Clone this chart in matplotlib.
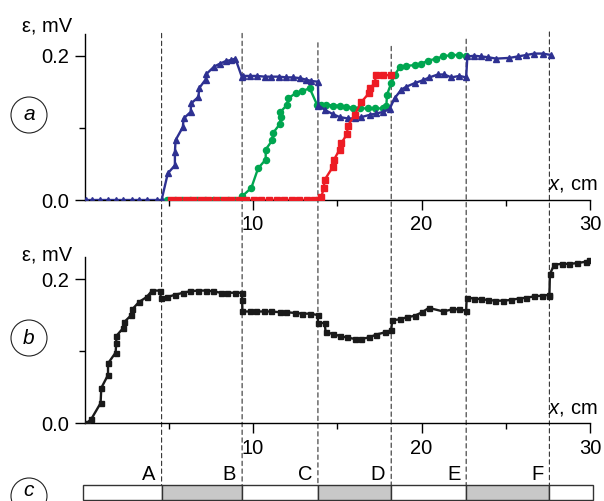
import matplotlib
matplotlib.use('Agg')
import matplotlib.pyplot as plt
from matplotlib.patches import ConnectionPatch, Ellipse

# fonts: narrow helvetica-like look
plt.rcParams['font.family'] = ['Liberation Sans Narrow', 'Liberation Sans', 'DejaVu Sans']
plt.rcParams['mathtext.fontset'] = 'custom'
plt.rcParams['mathtext.it'] = 'Liberation Sans:italic'
plt.rcParams['mathtext.rm'] = 'Liberation Sans'

# section boundaries (cm) and where the dashed lines start at the top (mV, panel a)
boundaries = [4.57, 9.35, 13.85, 18.2, 22.65, 27.59]
line_tops = [0.231, 0.231, 0.218, 0.213, 0.223, 0.233]
section_names = ['A', 'B', 'C', 'D', 'E', 'F']
bar_start = -0.1
bar_end = 30.15

# panel a, blue triangles
blue_x = [0.1, 0.45, 0.9, 1.4, 1.85, 2.3, 2.8, 3.2, 3.7, 4.3,
          4.57, 4.94, 5.36, 5.36, 5.4, 5.83, 5.88, 6.29, 6.33, 6.76,
          6.8, 7.18, 7.2, 7.69, 8.03, 8.42, 8.7, 8.95, 9.33, 9.41,
          9.8, 10.24, 10.69, 11.09, 11.54, 11.98, 12.37, 12.77, 13.12, 13.46,
          13.85, 13.88, 14.25, 14.74, 15.14, 15.63, 16.03, 16.43, 16.92, 17.31,
          17.71, 18.1, 18.4, 18.8, 19.09, 19.59, 20.08, 20.47, 20.97, 21.36,
          21.76, 22.25, 22.65, 22.72, 23.14, 23.54, 23.93, 24.43, 25.22, 25.71,
          26.21, 26.7, 27.19, 27.69]
blue_y = [0, 0, 0, 0, 0, 0, 0, 0, 0, 0,
          0.0, 0.037, 0.048, 0.066, 0.083, 0.101, 0.113, 0.122, 0.134, 0.143,
          0.155, 0.167, 0.174, 0.185, 0.189, 0.193, 0.194, 0.196, 0.171, 0.172,
          0.172, 0.172, 0.171, 0.171, 0.171, 0.170, 0.170, 0.169, 0.167, 0.165,
          0.164, 0.131, 0.125, 0.119, 0.115, 0.113, 0.113, 0.115, 0.118, 0.120,
          0.122, 0.126, 0.141, 0.153, 0.157, 0.162, 0.166, 0.170, 0.174, 0.174,
          0.170, 0.172, 0.170, 0.199, 0.200, 0.199, 0.198, 0.196, 0.197, 0.199,
          0.201, 0.203, 0.203, 0.201]

# panel a, green circles
green_x = [4.9, 5.35, 5.8, 6.25, 6.7, 7.15, 7.6, 8.05, 8.5, 8.95,
           9.35, 9.9, 10.3, 10.75, 10.75, 11.15, 11.19, 11.58, 11.64, 11.62,
           12.02, 12.08, 12.53, 12.93, 13.36, 13.8, 14.05, 14.35, 14.74, 15.14,
           15.54, 15.93, 16.33, 16.82, 17.21, 17.71, 17.91, 17.95, 18.2, 18.4,
           18.7, 19.09, 19.59, 19.98, 20.37, 20.87, 21.26, 21.76, 22.21, 22.65]
green_y = [0, 0, 0, 0, 0, 0, 0, 0, 0, 0,
           0.005, 0.017, 0.044, 0.056, 0.070, 0.083, 0.093, 0.105, 0.115, 0.122,
           0.132, 0.141, 0.148, 0.151, 0.155, 0.132, 0.132, 0.132, 0.131, 0.131,
           0.129, 0.128, 0.127, 0.127, 0.127, 0.127, 0.130, 0.146, 0.162, 0.173,
           0.184, 0.186, 0.187, 0.189, 0.193, 0.196, 0.199, 0.201, 0.201, 0.199]

# panel a, red squares
red_x = [5.1, 5.55, 6.0, 6.45, 6.9, 7.35, 7.8, 8.25, 8.7, 9.15,
         9.6, 10.05, 10.5, 10.95, 11.4, 11.85, 12.3, 12.75, 13.2, 13.6,
         13.9, 14.05, 14.19, 14.25, 14.74, 14.78, 15.14, 15.24, 15.57, 15.63,
         16.03, 16.43, 16.88, 16.96, 17.21, 17.31, 17.71, 18.16]
red_y = [0, 0, 0, 0, 0, 0, 0, 0, 0, 0,
         0, 0, 0, 0, 0, 0, 0, 0, 0, 0,
         0.0, 0.004, 0.016, 0.028, 0.046, 0.055, 0.070, 0.079, 0.091, 0.103,
         0.118, 0.136, 0.148, 0.155, 0.162, 0.173, 0.173, 0.173]

# panel b, black squares
black_x = [0.12, 0.40, 0.95, 0.99, 1.39, 1.39, 1.84, 1.88, 1.88, 2.29,
           2.34, 2.77, 2.83, 3.22, 3.68, 4.01, 4.47, 4.53, 4.9, 5.34,
           5.85, 6.25, 6.72, 7.18, 7.63, 8.07, 8.46, 8.9, 9.35, 9.35,
           9.37, 9.8, 10.2, 10.63, 11.09, 11.58, 11.98, 12.47, 12.93, 13.4,
           13.85, 13.85, 14.25, 14.31, 14.74, 15.14, 15.57, 16.03, 16.43, 16.88,
           17.31, 17.81, 18.2, 18.26, 18.7, 19.13, 19.59, 20.04, 20.43, 21.3,
           21.82, 22.25, 22.65, 22.68, 23.14, 23.54, 23.93, 24.39, 24.82, 25.32,
           25.77, 26.21, 26.7, 27.16, 27.55, 27.59, 27.62, 27.88, 28.34, 28.77,
           29.2, 29.76, 29.92]
black_y = [0.0, 0.006, 0.028, 0.049, 0.067, 0.083, 0.098, 0.111, 0.121, 0.132,
           0.140, 0.150, 0.158, 0.168, 0.175, 0.184, 0.184, 0.174, 0.175, 0.178,
           0.181, 0.183, 0.184, 0.184, 0.183, 0.181, 0.181, 0.181, 0.181, 0.171,
           0.155, 0.155, 0.155, 0.155, 0.155, 0.154, 0.154, 0.153, 0.152, 0.152,
           0.150, 0.139, 0.139, 0.126, 0.124, 0.121, 0.119, 0.117, 0.117, 0.119,
           0.123, 0.126, 0.129, 0.143, 0.144, 0.147, 0.149, 0.154, 0.160, 0.155,
           0.158, 0.158, 0.156, 0.174, 0.173, 0.172, 0.171, 0.170, 0.170, 0.171,
           0.173, 0.174, 0.176, 0.177, 0.178, 0.176, 0.207, 0.220, 0.221, 0.221,
           0.222, 0.224, 0.226]

W, H = 604, 501
fig = plt.figure(figsize=(W / 100, H / 100), dpi=100)

left = 84.6 / W
width = (590 - 84.6) / W
panel_h = 165.9 / H
ax_a = fig.add_axes([left, 1 - 200 / H, width, panel_h])
ax_b = fig.add_axes([left, 1 - 423.3 / H, width, panel_h])
ax_c = fig.add_axes([left, 1 / H, width, 38 / H])

blue = '#2e3192'
green = '#00a650'
red = '#ed1c24'
lw = 1.7

ax_a.plot(green_x, green_y, color=green, lw=lw, marker='o', ms=4.4, zorder=3)
ax_a.plot(blue_x, blue_y, color=blue, lw=lw, marker='^', ms=4.8, zorder=4)
ax_a.plot(red_x, red_y, color=red, lw=lw, marker='s', ms=3.8, zorder=5)
ax_b.plot(black_x, black_y, color='#1a1a1a', lw=lw, marker='s', ms=3.6, zorder=3)

for ax in [ax_a, ax_b]:
    ax.set_xlim(0, 30)
    ax.set_ylim(0, 0.23)
    ax.patch.set_visible(False)
    for s in ['top', 'right']:
        ax.spines[s].set_visible(False)
    ax.spines['left'].set_linewidth(1.0)
    ax.spines['bottom'].set_linewidth(1.0)
    ax.set_xticks([10, 20, 30])
    ax.set_xticks([5, 15, 25], minor=True)
    ax.set_yticks([0.0, 0.2])
    ax.set_yticklabels(['0.0', '0.2'])
    ax.set_yticks([0.1], minor=True)
    ax.tick_params(which='major', direction='out', length=7, width=1.0,
                   labelsize=14.5, pad=4)
    ax.tick_params(which='minor', direction='out', length=4, width=1.0)
    ax.text(30.45, 0.021, '$x$, cm', fontsize=14.5, ha='right', va='center')

# y-axis labels
fig.text(72 / W, 1 - 26 / H, 'ε, mV', fontsize=14.5, ha='right', va='center')
fig.text(72 / W, 1 - 255 / H, 'ε, mV', fontsize=14.5, ha='right', va='center')

# section bar (panel c)
edges = [bar_start] + boundaries + [bar_end]
widths = [edges[i + 1] - edges[i] for i in range(len(edges) - 1)]
fills = ['white' if i % 2 == 0 else '#c8c8c8' for i in range(len(widths))]
ax_c.barh(0, widths, left=edges[:-1], height=0.4, align='edge',
          color=fills, edgecolor='#333333', linewidth=1.0, clip_on=False)
ax_c.set_xlim(0, 30)
ax_c.set_ylim(0, 1)
ax_c.axis('off')
for b, name in zip(boundaries, section_names):
    ax_c.text(b - 0.35, 0.68, name, fontsize=14.5, ha='right', va='center')

# dashed section lines from the top panel down to the bar
for b, t in zip(boundaries, line_tops):
    con = ConnectionPatch(xyA=(b, t), coordsA=ax_a.transData,
                          xyB=(b, 0.4), coordsB=ax_c.transData,
                          linestyle=(0, (4, 3)), lw=0.8, color='#333333', zorder=-1)
    fig.add_artist(con)

# circled panel letters
for letter, yc, ty in [('a', 115, 115), ('b', 338, 338), ('c', 496, 491)]:
    circ = Ellipse((29 / W, 1 - yc / H), 36 / W, 36 / H, transform=fig.transFigure,
                   fill=False, lw=0.8, ec='#222222')
    fig.add_artist(circ)
    fig.text(29 / W, 1 - ty / H, letter, fontsize=15, style='italic',
             ha='center', va='center')

plt.savefig('out.png', dpi=100)
